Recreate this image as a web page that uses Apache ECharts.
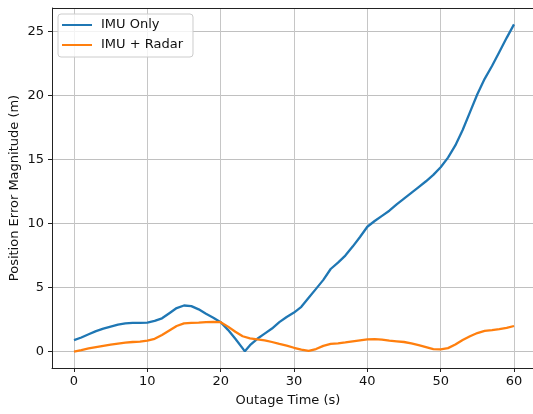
<!DOCTYPE html>
<html>
<head>
<meta charset="utf-8">
<script src="https://cdn.jsdelivr.net/npm/echarts@6/dist/echarts.min.js"></script>
<style>
  html, body { margin: 0; padding: 0; background: #fff; }
  #chart { width: 533px; height: 414px; }
</style>
</head>
<body>
<div id="chart"></div>
<script>
// outage time (s)
var tBlue = [0, 1, 2, 3, 4, 5, 6, 7, 8, 9, 10, 11, 12, 13, 14, 15, 16, 17, 18, 19, 20,
  21, 22, 23, 23.3, 24, 25, 26, 27, 28, 29, 30, 31, 32, 33, 34, 35, 36, 37, 38, 39, 40,
  41, 42, 43, 44, 45, 46, 47, 48, 49, 50, 51, 52, 53, 54, 55, 56, 57, 58, 59, 60]
var imuOnly = [0.9, 1.1, 1.35, 1.6, 1.8, 1.95, 2.1, 2.2, 2.25, 2.25, 2.27, 2.4, 2.6, 3.0, 3.4, 3.6, 3.55, 3.3, 2.95, 2.65, 2.3,
  1.7, 1.0, 0.25, 0.02, 0.5, 1.0, 1.4, 1.8, 2.3, 2.7, 3.05, 3.5, 4.2, 4.9, 5.6, 6.45, 6.95, 7.5, 8.2, 8.95, 9.75,
  10.2, 10.6, 11.0, 11.5, 11.95, 12.4, 12.85, 13.3, 13.8, 14.4, 15.15, 16.1, 17.3, 18.7, 20.1, 21.3, 22.3, 23.4, 24.5, 25.55]

var tOrange = [0, 1, 2, 3, 4, 5, 6, 7, 8, 9, 10, 11, 12, 13, 14, 15, 16, 17, 18, 19, 20,
  21, 22, 23, 24, 25, 26, 27, 28, 29, 30, 31, 32, 33, 34, 35, 36, 37, 38, 39, 40,
  41, 42, 43, 44, 45, 46, 47, 48, 49, 50, 51, 52, 53, 54, 55, 56, 57, 58, 59, 60]
var imuRadar = [0.0, 0.12, 0.25, 0.35, 0.45, 0.55, 0.63, 0.7, 0.75, 0.78, 0.85, 1.0, 1.3, 1.65, 2.0, 2.2, 2.25, 2.27, 2.3, 2.32, 2.3,
  1.95, 1.55, 1.2, 1.04, 0.95, 0.88, 0.75, 0.6, 0.47, 0.3, 0.15, 0.05, 0.2, 0.45, 0.6, 0.65, 0.72, 0.8, 0.88, 0.95,
  0.97, 0.93, 0.85, 0.8, 0.75, 0.65, 0.5, 0.35, 0.2, 0.18, 0.27, 0.55, 0.9, 1.2, 1.45, 1.62, 1.68, 1.75, 1.85, 2.0]

var xTicks = [0, 10, 20, 30, 40, 50, 60]
var yTicks = [0, 5, 10, 15, 20, 25]

var fontColor = '#111'
var font = 'DejaVu Sans'
var yMax = 26.83

function pairs(xs, ys) {
  return xs.map(function (x, i) { return [x, ys[i]] })
}

var option = {
  backgroundColor: '#fff',
  animation: false,
  textStyle: { fontFamily: font },
  grid: {
    left: 52,
    top: 8,
    width: 484,
    height: 360,
    containLabel: false,
    outerBoundsMode: 'none'
  },
  legend: {
    orient: 'vertical',
    left: 58,
    top: 14,
    padding: [4, 10, 5, 4],
    itemWidth: 30,
    itemHeight: 2,
    itemGap: 6,
    icon: 'rect',
    backgroundColor: 'rgba(255,255,255,0.8)',
    borderColor: '#cccccc',
    borderWidth: 1,
    borderRadius: 3,
    textStyle: {
      fontFamily: font,
      fontSize: 13,
      color: fontColor,
      lineHeight: 14,
      padding: [0, 0, 0, 4]
    },
    data: ['IMU Only', 'IMU + Radar']
  },
  xAxis: {
    type: 'value',
    min: -3,
    max: 63,
    name: 'Outage Time (s)',
    nameLocation: 'middle',
    nameGap: 26,
    nameTextStyle: { fontFamily: font, fontSize: 13, color: fontColor, padding: [0, 12, 0, 0] },
    axisLine: { show: true, onZero: false, lineStyle: { color: '#222', width: 1 } },
    axisTick: { show: true, length: 4, customValues: xTicks, lineStyle: { color: '#222' } },
    axisLabel: { fontFamily: font, fontSize: 13, color: fontColor, margin: 7, customValues: xTicks },
    splitLine: { show: true, lineStyle: { color: '#c6c6c6', width: 1 } }
  },
  yAxis: {
    type: 'value',
    min: -1.28,
    max: yMax,
    name: 'Position Error Magnitude (m)',
    nameLocation: 'middle',
    nameGap: 31,
    nameMoveOverlap: false,
    nameTextStyle: { fontFamily: font, fontSize: 13, color: fontColor },
    axisLine: { show: true, onZero: false, lineStyle: { color: '#222', width: 1 } },
    axisTick: { show: true, length: 4, customValues: yTicks, lineStyle: { color: '#222' } },
    axisLabel: { fontFamily: font, fontSize: 13, color: fontColor, margin: 8, customValues: yTicks },
    splitLine: { show: true, lineStyle: { color: '#c0c0c0', width: 1 } }
  },
  series: [
    {
      name: 'IMU Only',
      type: 'line',
      showSymbol: false,
      smooth: false,
      color: '#1f77b4',
      lineStyle: { color: '#1f77b4', width: 2.3 },
      data: pairs(tBlue, imuOnly),
      // top spine
      markLine: {
        silent: true,
        symbol: 'none',
        label: { show: false },
        lineStyle: { color: '#222', width: 1, type: 'solid' },
        data: [{ yAxis: yMax }]
      }
    },
    {
      name: 'IMU + Radar',
      type: 'line',
      showSymbol: false,
      smooth: false,
      color: '#ff7f0e',
      lineStyle: { color: '#ff7f0e', width: 2.3 },
      data: pairs(tOrange, imuRadar)
    }
  ]
}

var myChart = echarts.init(document.getElementById('chart'), null, { renderer: 'canvas' })
myChart.setOption(option)
</script>
</body>
</html>
